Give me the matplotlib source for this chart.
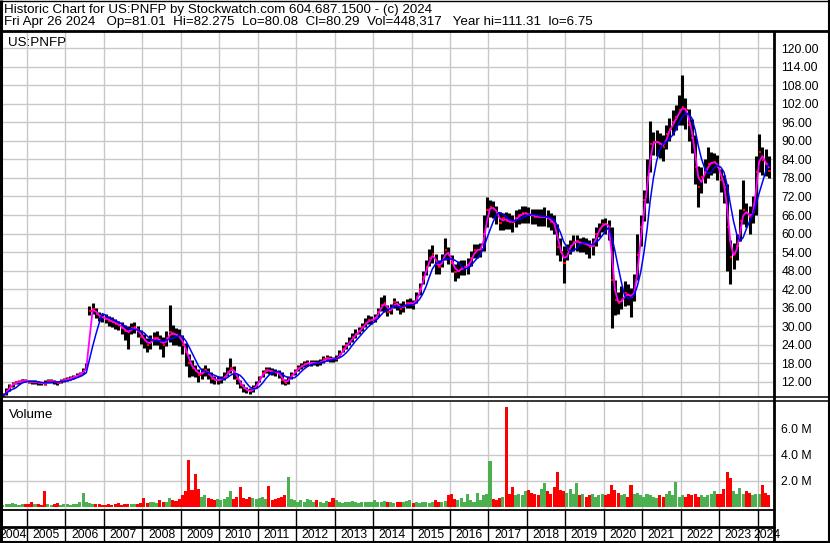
import numpy as np
import pandas as pd
import matplotlib
matplotlib.use("Agg")
import matplotlib.pyplot as plt
from matplotlib.lines import Line2D

W, H = 830, 543

# ── DATA: one bar per month, May 2004 .. Apr 2024 ───────────────────────────
start_year, start_month = 2004, 5

close = [
    7.5, 9.0, 10.5, 11.2, 11.8, 12.0, 12.4, 12.3,                          # 2004
    12.0, 11.8, 12.0, 11.6, 11.5, 11.4, 12.2, 12.3, 12.0, 11.6, 12.2, 12.6,  # 2005
    12.8, 13.2, 13.6, 14.0, 14.6, 15.4, 17.0, 35.0, 35.5, 34.0, 33.0, 32.8,  # 2006
    32.4, 31.8, 31.4, 30.8, 30.3, 29.5, 28.4, 28.0, 29.3, 29.6, 28.4, 26.5,  # 2007
    25.5, 24.0, 25.0, 26.0, 26.0, 25.0, 24.0, 26.0, 28.0, 27.5, 27.0, 26.5,  # 2008
    24.0, 21.7, 18.0, 16.4, 15.5, 14.2, 14.8, 15.8, 14.5, 13.0, 12.5, 12.5,  # 2009
    12.8, 13.6, 15.0, 16.5, 15.0, 12.8, 11.0, 9.8, 9.2, 8.9, 9.8, 11.0,      # 2010
    13.2, 14.8, 15.8, 15.6, 15.2, 15.0, 14.7, 12.5, 11.5, 13.0, 14.2, 15.2,  # 2011
    16.5, 17.0, 17.8, 18.0, 18.0, 18.2, 18.0, 18.3, 19.2, 19.6, 19.4, 19.2,  # 2012
    19.5, 21.0, 22.5, 23.9, 25.0, 26.5, 27.5, 28.5, 29.8, 31.0, 32.0, 32.0,  # 2013
    32.6, 34.5, 37.0, 37.5, 34.6, 35.5, 37.9, 36.8, 35.7, 36.5, 37.4, 37.5,  # 2014
    37.0, 39.5, 42.0, 46.0, 49.0, 52.0, 53.5, 50.0, 49.2, 51.4, 54.6, 53.0,  # 2015
    50.3, 47.6, 48.0, 48.7, 49.0, 49.7, 52.0, 54.6, 54.6, 55.0, 60.0, 67.5,  # 2016
    68.6, 68.0, 66.5, 63.5, 65.0, 64.2, 63.8, 63.7, 65.0, 65.9, 66.5, 66.5,  # 2017
    66.0, 65.9, 65.5, 65.4, 65.4, 65.4, 65.0, 63.7, 63.0, 55.7, 54.0, 50.3,  # 2018
    54.6, 56.0, 57.3, 57.5, 56.8, 56.8, 56.5, 55.7, 56.0, 60.0, 61.5, 63.2,  # 2019
    63.0, 62.1, 45.0, 38.4, 37.4, 38.5, 40.6, 40.0, 39.5, 42.0, 53.0, 62.1,  # 2020
    70.8, 78.3, 89.1, 89.6, 89.6, 89.1, 88.0, 92.3, 94.0, 96.1, 97.7, 100.0, # 2021
    100.9, 99.9, 95.0, 91.0, 81.5, 75.0, 78.3, 80.0, 82.6, 83.0, 83.2, 81.5, # 2022
    77.2, 75.0, 62.0, 52.4, 53.5, 56.0, 64.0, 67.5, 66.5, 65.4, 67.0, 80.0,  # 2023
    86.5, 83.7, 82.6, 80.3,                                                  # 2024
]

high = [
    8.2, 9.8, 11.2, 11.8, 12.3, 12.6, 13.0, 12.8,
    12.7, 12.4, 12.5, 12.2, 12.0, 12.4, 12.9, 12.9, 12.6, 12.2, 12.8, 13.2,
    13.4, 13.8, 14.3, 14.7, 15.3, 16.3, 18.2, 36.5, 37.5, 35.8, 34.5, 34.0,
    33.8, 33.2, 32.8, 32.4, 31.8, 31.2, 30.5, 30.2, 31.0, 31.2, 30.2, 28.6,
    27.5, 26.0, 27.0, 28.0, 28.5, 27.0, 26.5, 28.5, 37.0, 30.5, 29.5, 29.0,
    27.0, 24.5, 21.0, 19.0, 17.5, 16.0, 16.5, 17.5, 16.5, 15.0, 14.0, 13.8,
    14.0, 15.0, 16.8, 19.7, 17.0, 14.5, 12.5, 11.2, 10.3, 10.0, 10.8, 12.2,
    14.0, 15.8, 16.8, 16.8, 16.5, 16.0, 15.8, 15.0, 13.0, 14.0, 15.2, 16.2,
    17.4, 18.0, 18.8, 19.0, 19.0, 19.0, 18.9, 19.2, 20.2, 20.6, 20.3, 20.0,
    20.8, 22.2, 23.8, 25.0, 26.5, 27.8, 29.0, 29.8, 31.0, 32.5, 33.5, 33.2,
    34.0, 36.0, 39.5, 40.0, 37.0, 37.2, 39.2, 38.2, 37.5, 38.0, 38.8, 39.2,
    38.5, 41.0, 44.0, 48.0, 51.5, 55.0, 56.2, 53.5, 51.5, 53.5, 58.5, 55.5,
    53.0, 50.0, 51.0, 51.5, 51.5, 52.0, 54.5, 56.5, 56.5, 57.0, 66.0, 71.8,
    71.0, 70.5, 69.0, 67.0, 66.5, 67.0, 66.5, 66.0, 67.5, 68.0, 69.0, 69.0,
    68.5, 68.0, 68.0, 68.0, 68.0, 68.5, 67.5, 66.5, 66.0, 63.0, 58.5, 56.0,
    56.5, 58.0, 59.5, 59.5, 58.5, 59.0, 58.5, 58.0, 58.5, 62.0, 63.5, 64.8,
    65.0, 64.5, 62.0, 45.0, 41.0, 43.0, 44.5, 43.5, 42.5, 47.0, 60.0, 66.0,
    74.0, 84.0, 96.6, 93.0, 93.5, 92.5, 92.0, 95.0, 97.5, 100.0, 101.5, 105.0,
    111.3, 104.0, 100.5, 97.0, 92.0, 82.0, 81.5, 84.0, 88.0, 86.5, 86.0, 85.5,
    81.0, 79.0, 76.0, 58.0, 57.0, 60.0, 68.0, 77.2, 70.0, 69.0, 72.0, 85.0,
    92.3, 88.0, 87.5, 85.0,
]

low = [
    6.75, 7.6, 9.0, 10.4, 11.2, 11.4, 11.8, 11.8,
    11.5, 11.3, 11.4, 11.0, 11.0, 10.9, 11.7, 11.7, 11.4, 10.9, 11.6, 12.0,
    12.2, 12.6, 13.0, 13.4, 14.0, 14.6, 16.0, 33.5, 33.8, 32.5, 31.8, 31.5,
    31.0, 30.2, 29.8, 29.2, 28.6, 27.6, 25.5, 22.5, 27.5, 27.8, 26.4, 24.2,
    23.0, 21.5, 22.5, 24.0, 24.0, 22.5, 20.0, 23.5, 25.0, 24.0, 24.0, 23.5,
    21.0, 17.0, 13.6, 14.0, 13.5, 11.8, 13.0, 14.0, 12.8, 11.5, 11.2, 11.3,
    11.5, 12.5, 13.8, 14.8, 12.8, 11.2, 9.8, 8.6, 8.4, 8.0, 8.8, 10.0,
    11.8, 13.6, 14.8, 14.6, 14.2, 14.0, 13.2, 11.2, 10.8, 11.2, 13.0, 14.2,
    15.6, 16.2, 16.8, 17.0, 17.0, 17.3, 17.0, 17.4, 18.2, 18.6, 18.4, 18.3,
    18.8, 20.0, 21.5, 22.5, 23.8, 25.0, 26.3, 27.3, 28.5, 29.8, 30.6, 30.8,
    31.2, 32.8, 35.0, 34.5, 33.2, 34.0, 36.0, 35.2, 33.8, 34.5, 35.8, 35.8,
    35.5, 37.5, 40.0, 43.5, 46.5, 49.5, 50.5, 47.0, 46.8, 49.0, 51.5, 50.0,
    47.5, 44.5, 45.5, 46.5, 46.5, 47.0, 49.5, 52.0, 52.0, 52.5, 54.5, 62.0,
    65.5, 65.0, 63.0, 61.0, 61.0, 61.5, 61.5, 60.5, 62.0, 63.0, 63.5, 63.5,
    63.5, 63.0, 63.0, 62.5, 62.5, 62.5, 62.0, 61.0, 60.0, 53.0, 51.0, 44.0,
    51.5, 53.5, 54.5, 54.5, 54.0, 54.0, 53.5, 52.0, 53.0, 56.0, 59.0, 60.5,
    60.0, 58.0, 29.4, 33.5, 34.0, 35.5, 36.5, 37.0, 33.0, 38.0, 45.0, 56.0,
    64.0, 70.0, 80.0, 85.5, 85.0, 84.5, 83.5, 87.5, 90.0, 92.0, 93.5, 95.0,
    95.0, 94.0, 90.0, 86.0, 76.0, 68.6, 73.0, 76.5, 78.0, 79.0, 79.5, 77.5,
    73.5, 70.0, 48.0, 43.8, 48.5, 51.5, 57.5, 63.0, 62.0, 60.0, 63.5, 66.0,
    80.0, 79.0, 78.5, 78.0,
]

# volume bar heights, millions of shares
volume = [
    0.15, 0.2, 0.2, 0.3, 0.2, 0.15, 0.25, 0.2,
    0.25, 0.35, 0.2, 0.2, 0.15, 1.25, 0.2, 0.15, 0.2, 0.3, 0.15, 0.2,
    0.2, 0.15, 0.2, 0.25, 0.4, 1.1, 0.35, 0.3, 0.25, 0.2, 0.2, 0.15,
    0.15, 0.2, 0.15, 0.2, 0.3, 0.15, 0.2, 0.25, 0.2, 0.2, 0.25, 0.3,
    0.7, 0.3, 0.35, 0.4, 0.3, 0.5, 0.4, 0.35, 0.7, 0.5, 0.45, 0.6,
    0.9, 1.2, 3.6, 1.3, 2.5, 1.4, 0.8, 0.9, 0.7, 0.6, 0.5, 0.6,
    0.5, 0.6, 0.8, 1.2, 0.6, 0.8, 1.5, 0.7, 0.6, 0.8, 0.7, 0.6,
    0.7, 0.8, 0.6, 1.6, 0.5, 0.6, 0.7, 0.8, 0.9, 2.3, 0.6, 0.5,
    0.4, 0.5, 0.4, 0.6, 0.5, 0.4, 0.5, 0.4, 0.3, 0.45, 0.4, 0.7,
    0.5, 0.4, 0.3, 0.35, 0.4, 0.45, 0.4, 0.3, 0.35, 0.4, 0.35, 0.4,
    0.5, 0.4, 0.35, 0.45, 0.35, 0.4, 0.3, 0.35, 0.4, 0.35, 0.45, 0.5,
    0.3, 0.35, 0.3, 0.4, 0.35, 0.3, 0.4, 0.5, 0.35, 0.4, 0.45, 0.9,
    1.0, 0.6, 0.5, 0.7, 0.4, 1.0, 0.5, 0.4, 1.1, 0.5, 0.9, 1.0,
    3.5, 0.6, 0.5, 0.7, 0.8, 7.65, 1.0, 1.5, 0.9, 1.0, 0.9, 1.2,
    1.3, 1.1, 1.0, 0.9, 1.4, 1.8, 1.2, 1.0, 1.5, 2.7, 1.3, 1.2,
    1.1, 1.4, 1.0, 1.8, 0.9, 1.0, 0.8, 0.9, 1.0, 0.8, 0.9, 1.0,
    0.9, 1.0, 1.7, 1.3, 1.1, 0.9, 1.0, 0.8, 1.7, 1.0, 1.1, 0.9,
    0.8, 1.0, 0.9, 0.8, 0.7, 0.9, 0.8, 1.0, 1.25, 0.9, 1.9, 0.8,
    0.9, 0.8, 1.0, 0.9, 1.0, 0.8, 0.9, 0.8, 0.9, 1.0, 1.2, 1.0,
    1.0, 1.4, 2.65, 2.2, 1.2, 1.0, 1.45, 1.0, 1.2, 1.1, 0.9, 1.0,
    1.0, 1.7, 1.1, 0.9,
]

header1 = "Historic Chart for US:PNFP by Stockwatch.com 604.687.1500 - (c) 2024"
header2 = ("Fri Apr 26 2024   Op=81.01  Hi=82.275  Lo=80.08  Cl=80.29  "
           "Vol=448,317   Year hi=111.31  lo=6.75")
symbol = "US:PNFP"
price_ticks = [12, 18, 24, 30, 36, 42, 48, 54, 60, 66, 72, 78, 84, 90,
               96, 102, 108, 114, 120]
vol_ticks = [2, 4, 6]
years = list(range(2004, 2025))
# ──────────────────────────────────────────────────────────────────────────────

FONT = "Liberation Sans"
FS = 8.8        # numbers
FS_TXT = 9.6    # header and panel captions
GRID = "#c8c8c8"

n = len(close)
x = np.array([start_year + (start_month - 1 + i + 0.5) / 12 for i in range(n)])
cl = pd.Series(close)
ma_fast = cl.rolling(2, min_periods=1).mean()
ma_slow = cl.rolling(5, min_periods=1).mean()
prev = cl.shift(1).fillna(cl.iloc[0])
vcol = np.where(cl >= prev, "#4cb050", "#ff0000")

# pixel layout
PX_L, PX_R = 2, 773
YR0_PX, YR_W = 27.0, 38.45          # pixel of 1 Jan 2005 and width of a year
x_lo = 2005 + (PX_L - YR0_PX) / YR_W
x_hi = 2005 + (PX_R - YR0_PX) / YR_W


def rect(x0, y0, x1, y1):
    return [x0 / W, 1 - y1 / H, (x1 - x0) / W, (y1 - y0) / H]


def yr2px(yv):
    return YR0_PX + (yv - 2005) * YR_W


fig = plt.figure(figsize=(W / 100, H / 100), dpi=100)
fig.patch.set_facecolor("white")

# ── price panel ──
ax1 = fig.add_axes(rect(PX_L, 31, PX_R, 397))
ppx = 3.087
ax1.set_ylim(12 - (397 - 381.7) / ppx, 12 + (381.7 - 31) / ppx)
ax1.set_xlim(x_lo, x_hi)
for t in price_ticks:
    ax1.axhline(t, color=GRID, lw=1.0, zorder=0)
for yv in years[1:]:
    ax1.axvline(yv, color=GRID, lw=1.0, zorder=0)
ax1.vlines(x, low, high, color="black", lw=2.2, zorder=2)
ax1.hlines(close, x - 0.01, x + 0.055, color="#ff0000", lw=1.5, zorder=3)
ax1.plot(x, ma_fast, color="#ff00ff", lw=1.3, zorder=4)
ax1.plot(x, ma_slow, color="#0000ff", lw=1.1, zorder=5)
ax1.set_xticks([])
ax1.yaxis.tick_right()
ax1.set_yticks(price_ticks)
ax1.set_yticklabels([f"{t:.2f}" for t in price_ticks], fontsize=FS,
                    family=FONT, ha="left")
ax1.tick_params(axis="y", length=0, pad=6)
for s in ax1.spines.values():
    s.set_visible(False)

# ── volume panel ──
ax2 = fig.add_axes(rect(PX_L, 401, PX_R, 509.5))
vpx = 2 / 26.2
ax2.set_ylim(-(509.5 - 507) * vpx, (507 - 401) * vpx)
ax2.set_xlim(x_lo, x_hi)
for t in vol_ticks:
    ax2.axhline(t, color=GRID, lw=1.0, zorder=0)
for yv in years[1:]:
    ax2.axvline(yv, color=GRID, lw=1.0, zorder=0)
ax2.bar(x, volume, width=0.95 / 12, color=vcol, zorder=2, linewidth=0)
ax2.set_xticks([])
ax2.yaxis.tick_right()
ax2.set_yticks(vol_ticks)
ax2.set_yticklabels([f"{t:.1f} M" for t in vol_ticks], fontsize=FS,
                    family=FONT, ha="left")
ax2.tick_params(axis="y", length=0, pad=6)
for s in ax2.spines.values():
    s.set_visible(False)


def ftext(px, py, s, size, **kw):
    fig.text(px / W, 1 - py / H, s, fontsize=size, family=FONT, **kw)


# ── frame lines, in pixels ──
def fline(xs, ys, lw):
    fig.add_artist(Line2D([v / W for v in xs], [1 - v / H for v in ys],
                          color="black", lw=lw, transform=fig.transFigure,
                          solid_capstyle="butt"))


fline([0, W], [0.5, 0.5], 1.0)             # top border
fline([0, W], [542.3, 542.3], 1.5)         # bottom border
fline([1, 1], [0, H], 2.2)                 # left border
fline([829.2, 829.2], [0, H], 1.5)         # right border
fline([0, W], [30.8, 30.8], 2.0)           # under header
fline([0, W], [397, 397], 1.1)             # price bottom
fline([0, W], [401, 401], 1.1)             # volume top
fline([0, PX_R + 2], [509.8, 509.8], 1.3)  # volume bottom
fline([0, PX_R + 2], [527, 527], 2.0)      # date strip middle
fline([774, 774], [31, H], 2.0)            # right axis line

# year cells below the volume panel
for yv in years[1:]:
    px = yr2px(yv)
    fline([px, px], [510, 542], 1.0)
for yv in years:
    left = max(yr2px(yv), 0)
    right = min(yr2px(yv + 1), PX_R)
    cx = (left + right) / 2 + (2 if yv == years[-1] else 0)
    ftext(cx, 535, str(yv), FS, ha="center", va="center")

# header and captions
ftext(4, 12.5, header1, FS_TXT, ha="left", va="baseline")
ftext(4, 25, header2, FS_TXT, ha="left", va="baseline")
ftext(8, 46, symbol, FS_TXT, ha="left", va="baseline")
ftext(9, 418, "Volume", FS_TXT, ha="left", va="baseline")

fig.savefig("out.png", dpi=100, facecolor="white")
